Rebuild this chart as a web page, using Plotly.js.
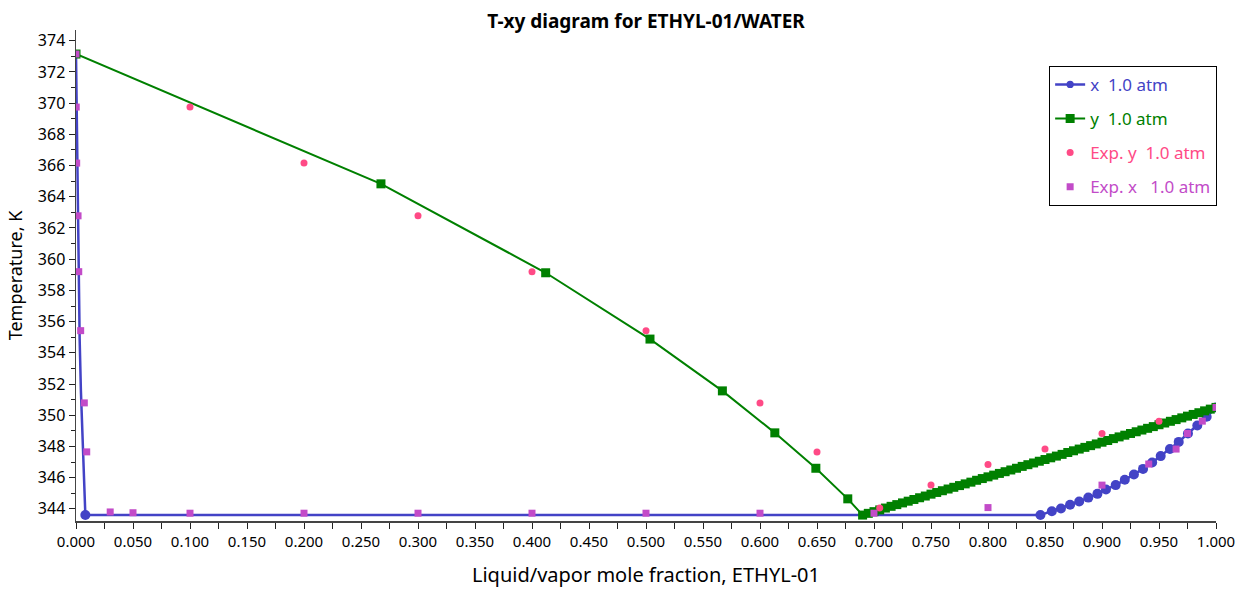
<!DOCTYPE html>
<html>
<head>
<meta charset="utf-8">
<script src="https://cdn.plot.ly/plotly-3.0.1.min.js"></script>
<style>html,body{margin:0;padding:0;background:#fff;}#chart{width:1252px;height:598px;}</style>
</head>
<body>
<div id="chart"></div>
<script>
// Model liquid curve (x)
const xLiqX = [0, 0.0012, 0.0022, 0.0032, 0.0043, 0.0055, 0.0066, 0.0075, 0.0082,
  0.846, 0.856, 0.864, 0.872, 0.880, 0.888, 0.896, 0.9035, 0.912, 0.920, 0.928, 0.936,
  0.944, 0.9515, 0.9596, 0.9673, 0.9754, 0.9836, 0.9918, 1.0];
const xLiqT = [373.15, 364.83, 359.13, 354.88, 351.56, 348.87, 346.6, 344.64, 343.6,
  343.6, 343.85, 344.02, 344.26, 344.47, 344.72, 344.96, 345.24, 345.52, 345.86, 346.2, 346.56,
  346.97, 347.38, 347.83, 348.29, 348.83, 349.34, 349.9, 350.5];
const xLiqMarker = [0, 0, 0, 0, 0, 0, 0, 0, 10,
  10, 10, 10, 10, 10, 10, 10, 10, 10, 10, 10, 10, 10, 10, 10, 10, 10, 10, 10, 10];

// Model vapor curve (y)
const yVapX = [0, 0.2675, 0.412, 0.5035, 0.567, 0.613, 0.649, 0.677,
  0.690, 0.695, 0.700, 0.705, 0.710, 0.715, 0.720, 0.725, 0.730, 0.735, 0.740, 0.745,
  0.750, 0.755, 0.760, 0.765, 0.770, 0.775, 0.780, 0.785, 0.790, 0.795,
  0.800, 0.805, 0.810, 0.815, 0.820, 0.825, 0.830, 0.835, 0.840, 0.845,
  0.850, 0.855, 0.860, 0.865, 0.870, 0.875, 0.880, 0.885, 0.890, 0.895,
  0.900, 0.905, 0.910, 0.915, 0.920, 0.925, 0.930, 0.935, 0.940, 0.945,
  0.950, 0.955, 0.960, 0.965, 0.970, 0.975, 0.980, 0.985, 0.990, 0.995, 1.000];
const yVapT = [373.15, 364.83, 359.13, 354.88, 351.56, 348.87, 346.6, 344.64,
  343.60, 343.71, 343.82, 343.93, 344.05, 344.16, 344.27, 344.38, 344.49, 344.60, 344.71, 344.82,
  344.94, 345.05, 345.16, 345.27, 345.38, 345.49, 345.60, 345.71, 345.83, 345.94,
  346.05, 346.16, 346.27, 346.38, 346.49, 346.60, 346.72, 346.83, 346.94, 347.05,
  347.16, 347.27, 347.38, 347.49, 347.61, 347.72, 347.83, 347.94, 348.05, 348.16,
  348.27, 348.38, 348.50, 348.61, 348.72, 348.83, 348.94, 349.05, 349.16, 349.27,
  349.39, 349.50, 349.61, 349.72, 349.83, 349.94, 350.05, 350.16, 350.28, 350.39, 350.50];

// Experimental vapor (Exp. y)
const expYX = [0.1, 0.2, 0.3, 0.4, 0.5, 0.6, 0.65, 0.705, 0.75, 0.8, 0.85, 0.9, 0.95];
const expYT = [369.75, 366.16, 362.78, 359.2, 355.42, 350.79, 347.65, 344.06, 345.52, 346.84, 347.83, 348.83, 349.62];

// Experimental liquid (Exp. x)
const expXX = [0, 0.0002, 0.0006, 0.0018, 0.0024, 0.0041, 0.0073, 0.0094,
  0.03, 0.05, 0.1, 0.2, 0.3, 0.4, 0.5, 0.6, 0.7, 0.8, 0.9, 0.941, 0.965, 0.975, 0.988, 1.0];
const expXT = [373.15, 369.75, 366.16, 362.78, 359.2, 355.42, 350.79, 347.65,
  343.8, 343.75, 343.72, 343.72, 343.72, 343.72, 343.72, 343.72, 343.72, 344.08, 345.52, 346.87, 347.83, 348.83, 349.62, 350.5];

const xTickText = ['0.000','0.050','0.100','0.150','0.200','0.250','0.300','0.350','0.400','0.450','0.500',
  '0.550','0.600','0.650','0.700','0.750','0.800','0.850','0.900','0.950','1.000'];
const xTickVals = xTickText.map(Number);

const blue = '#4343c6', green = '#008000', pink = '#ff4a86', magenta = '#c24bc8';
const FONT = 'Noto Sans, Open Sans, sans-serif';

const traces = [
  {x: xLiqX, y: xLiqT, mode: 'lines+markers', name: '<span style="color:' + blue + '">x  1.0 atm</span>',
   line: {color: blue, width: 2.5}, marker: {color: blue, size: xLiqMarker, symbol: 'circle', opacity: 1, line: {width: 0}},
   legendgroup: 'a'},
  {x: yVapX, y: yVapT, mode: 'lines+markers', name: '<span style="color:' + green + '">y  1.0 atm</span>',
   line: {color: green, width: 2}, marker: {color: green, size: 9, symbol: 'square', line: {width: 0}},
   legendgroup: 'b'},
  {x: expYX, y: expYT, mode: 'markers', name: '<span style="color:' + pink + '">Exp. y  1.0 atm</span>',
   marker: {color: pink, size: 7, symbol: 'circle', line: {width: 0}}, legendgroup: 'c'},
  {x: expXX, y: expXT, mode: 'markers', name: '<span style="color:' + magenta + '">Exp. x   1.0 atm</span>',
   marker: {color: magenta, size: 7, symbol: 'square', line: {width: 0}}, legendgroup: 'd'}
];

const layout = {
  width: 1252, height: 598,
  margin: {l: 76, r: 36, t: 30, b: 77},
  paper_bgcolor: '#fff', plot_bgcolor: '#fff',
  font: {family: FONT, color: '#000', size: 16},
  title: {text: '<b>T-xy diagram for ETHYL-01/WATER</b>', font: {family: FONT, size: 19, color: '#000'},
          x: 0.5, xref: 'paper', xanchor: 'center', y: 0.965, yanchor: 'middle'},
  showlegend: true,
  legend: {x: 1.001, xanchor: 'right', y: 0.927, yanchor: 'top', bordercolor: '#000', borderwidth: 1,
           bgcolor: '#fff', font: {family: FONT, size: 17}, traceorder: 'grouped', tracegroupgap: 9,
           itemwidth: 30},
  xaxis: {
    range: [0, 1], showgrid: false, zeroline: false, showline: true, linecolor: '#444', linewidth: 1.5,
    ticks: 'outside', ticklen: 6, tickcolor: '#222', tickvals: xTickVals, ticktext: xTickText,
    tickfont: {family: FONT, size: 15, color: '#000'},
    minor: {dtick: 0.025, ticks: 'outside', ticklen: 6, tickcolor: '#222', showgrid: false},
    title: {text: 'Liquid/vapor mole fraction, ETHYL-01', font: {family: FONT, size: 20, color: '#000'}, standoff: 18}
  },
  yaxis: {
    range: [343.22, 374.69], showgrid: false, zeroline: false, showline: true, linecolor: '#444', linewidth: 1.5,
    ticks: 'outside', ticklen: 6, tickcolor: '#222', dtick: 2, tick0: 344,
    tickfont: {family: FONT, size: 16, color: '#000'},
    minor: {dtick: 1, ticks: 'outside', ticklen: 4, tickcolor: '#222', showgrid: false},
    title: {text: 'Temperature, K', font: {family: FONT, size: 18, color: '#000'}, standoff: 10}
  }
};

Plotly.newPlot('chart', traces, layout, {displayModeBar: false, staticPlot: true});
</script>
</body>
</html>
